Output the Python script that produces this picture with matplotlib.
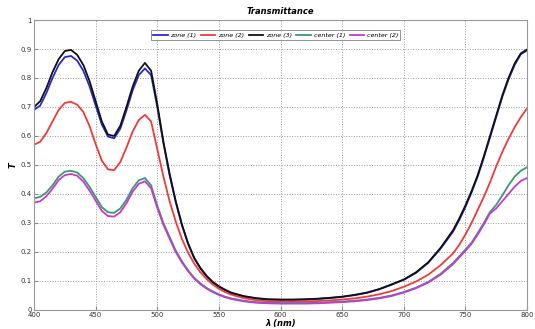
import matplotlib
matplotlib.use("Agg")
import matplotlib.pyplot as plt

# Wavelength grid (nm)
wavelength = [400, 405, 410, 415, 420, 425, 430, 435, 440, 445, 450, 455, 460, 465,
              470, 475, 480, 485, 490, 495, 500, 505, 510, 515, 520, 525, 530, 535,
              540, 545, 550, 555, 560, 570, 580, 590, 600, 610, 620, 630, 640, 650,
              660, 670, 680, 690, 700, 710, 720, 730, 740, 745, 750, 755, 760, 765,
              770, 775, 780, 785, 790, 795, 800]

zone1 = [0.690, 0.705, 0.748, 0.800, 0.845, 0.872, 0.876, 0.860, 0.825, 0.772, 0.705,
         0.640, 0.598, 0.592, 0.625, 0.688, 0.757, 0.810, 0.833, 0.810, 0.700, 0.575,
         0.465, 0.372, 0.292, 0.228, 0.178, 0.143, 0.116, 0.095, 0.080, 0.068, 0.058,
         0.047, 0.040, 0.036, 0.035, 0.035, 0.036, 0.038, 0.041, 0.045, 0.051, 0.059,
         0.071, 0.087, 0.104, 0.128, 0.163, 0.212, 0.270, 0.310, 0.355, 0.405, 0.460,
         0.525, 0.595, 0.665, 0.735, 0.795, 0.845, 0.882, 0.895]

zone2 = [0.570, 0.580, 0.610, 0.650, 0.690, 0.714, 0.718, 0.708, 0.683, 0.635, 0.572,
         0.515, 0.485, 0.482, 0.510, 0.560, 0.615, 0.655, 0.673, 0.650, 0.555, 0.460,
         0.375, 0.305, 0.245, 0.198, 0.160, 0.130, 0.107, 0.088, 0.073, 0.062, 0.053,
         0.041, 0.034, 0.030, 0.029, 0.029, 0.030, 0.031, 0.033, 0.036, 0.040, 0.046,
         0.054, 0.065, 0.080, 0.098, 0.122, 0.155, 0.195, 0.224, 0.260, 0.300, 0.345,
         0.390, 0.440, 0.495, 0.545, 0.590, 0.630, 0.665, 0.695]

zone3 = [0.700, 0.720, 0.765, 0.820, 0.865, 0.893, 0.897, 0.880, 0.845, 0.790, 0.720,
         0.650, 0.605, 0.600, 0.635, 0.700, 0.770, 0.825, 0.852, 0.825, 0.710, 0.580,
         0.470, 0.375, 0.295, 0.230, 0.180, 0.145, 0.118, 0.097, 0.082, 0.070, 0.060,
         0.048, 0.041, 0.037, 0.036, 0.036, 0.037, 0.039, 0.042, 0.046, 0.052, 0.060,
         0.072, 0.088, 0.105, 0.130, 0.165, 0.215, 0.275, 0.315, 0.360, 0.410, 0.465,
         0.530, 0.600, 0.670, 0.740, 0.800, 0.850, 0.885, 0.898]

center1 = [0.385, 0.390, 0.405, 0.430, 0.460, 0.477, 0.480, 0.474, 0.455, 0.425, 0.390,
           0.355, 0.337, 0.335, 0.350, 0.380, 0.420, 0.447, 0.455, 0.430, 0.360, 0.300,
           0.252, 0.205, 0.168, 0.137, 0.111, 0.092, 0.076, 0.064, 0.054, 0.046, 0.040,
           0.032, 0.027, 0.025, 0.024, 0.024, 0.024, 0.025, 0.027, 0.029, 0.032, 0.036,
           0.042, 0.050, 0.062, 0.077, 0.097, 0.125, 0.162, 0.185, 0.208, 0.232, 0.265,
           0.300, 0.338, 0.362, 0.395, 0.430, 0.460, 0.480, 0.492]

center2 = [0.370, 0.375, 0.392, 0.418, 0.448, 0.465, 0.469, 0.463, 0.443, 0.412, 0.377,
           0.342, 0.324, 0.322, 0.337, 0.368, 0.408, 0.435, 0.444, 0.420, 0.352, 0.294,
           0.246, 0.200, 0.164, 0.134, 0.108, 0.089, 0.074, 0.062, 0.052, 0.044, 0.038,
           0.030, 0.025, 0.023, 0.022, 0.022, 0.022, 0.023, 0.025, 0.027, 0.030, 0.034,
           0.040, 0.048, 0.060, 0.075, 0.095, 0.122, 0.158, 0.181, 0.204, 0.228, 0.260,
           0.295, 0.333, 0.350, 0.375, 0.400, 0.425, 0.445, 0.455]

labels = ["zone (1)", "zone (2)", "zone (3)", "center (1)", "center (2)"]
colors = ["#2a2ad0", "#f03a3a", "#111111", "#3a9a6a", "#c43ad0"]

x_ticks = [400, 450, 500, 550, 600, 650, 700, 750, 800]
y_ticks = [0, 0.1, 0.2, 0.3, 0.4, 0.5, 0.6, 0.7, 0.8, 0.9, 1]
y_ticklabels = ["0", "0.1", "0.2", "0.3", "0.4", "0.5", "0.6", "0.7", "0.8", "0.9", "1"]

fig = plt.figure(figsize=(5.35, 3.29), dpi=100)
ax = fig.add_axes([0.0636, 0.0578, 0.9214, 0.8814])

for series, label, color in zip([zone1, zone2, zone3, center1, center2], labels, colors):
    ax.plot(wavelength, series, color=color, linewidth=1.3, label=label)

ax.set_xlim(400, 800)
ax.set_ylim(0, 1)
ax.set_xticks(x_ticks)
ax.set_yticks(y_ticks)
ax.set_yticklabels(y_ticklabels)
ax.tick_params(labelsize=5, direction="in", length=3, pad=1.5,
               color="#888888", labelcolor="#333333")
ax.grid(True, linestyle=":", color="#999999", linewidth=0.7)
for spine in ax.spines.values():
    spine.set_color("#999999")

ax.set_title("Transmittance", fontsize=6, fontweight="bold", style="italic", pad=4)
ax.set_xlabel("λ (nm)", fontsize=6, fontweight="bold", style="italic", labelpad=0.5)
ax.set_ylabel("T", fontsize=6, fontweight="bold", style="italic", labelpad=2)

leg = ax.legend(loc="upper center", bbox_to_anchor=(0.49, 0.975), ncol=5,
                frameon=True, fancybox=False, handlelength=2.3, columnspacing=0.7,
                handletextpad=0.4, borderpad=0.3, prop={"style": "italic", "size": 4.6})
leg.get_frame().set_edgecolor("#777777")
leg.get_frame().set_linewidth(0.7)

plt.savefig("out.png", dpi=100)
